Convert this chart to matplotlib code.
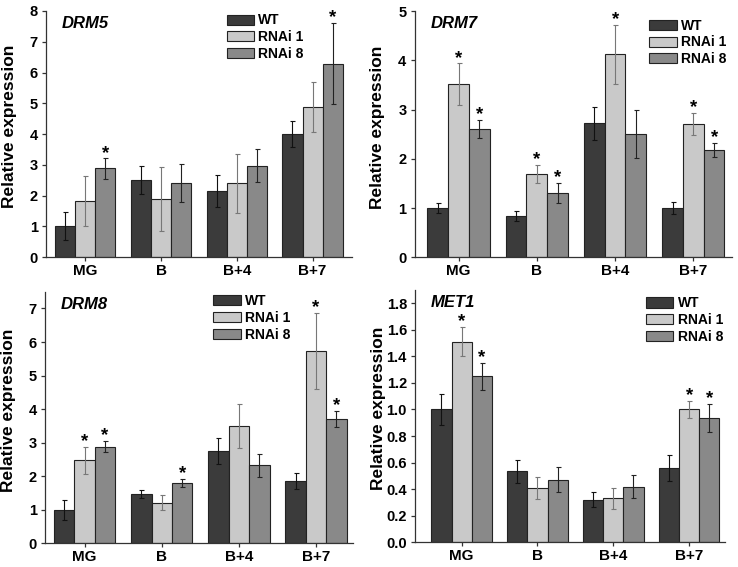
import numpy as np
import matplotlib
matplotlib.use("Agg")
from matplotlib import pyplot as plt

plt.rcParams['font.family'] = ['Liberation Sans', 'DejaVu Sans']
plt.rcParams['font.weight'] = 'bold'

stages = ["MG", "B", "B+4", "B+7"]
lines = ["WT", "RNAi 1", "RNAi 8"]

# DRM5
drm5_wt = [1.00, 2.50, 2.15, 4.00]
drm5_r1 = [1.82, 1.90, 2.40, 4.89]
drm5_r8 = [2.88, 2.41, 2.97, 6.29]
drm5_wt_err = [0.46, 0.46, 0.51, 0.43]
drm5_r1_err = [0.80, 1.04, 0.96, 0.81]
drm5_r8_err = [0.33, 0.63, 0.54, 1.33]
drm5_star = [(0, 2), (3, 2)]

# DRM7
drm7_wt = [1.00, 0.84, 2.72, 1.01]
drm7_r1 = [3.52, 1.70, 4.13, 2.71]
drm7_r8 = [2.61, 1.31, 2.50, 2.18]
drm7_wt_err = [0.10, 0.10, 0.33, 0.12]
drm7_r1_err = [0.42, 0.18, 0.60, 0.23]
drm7_r8_err = [0.19, 0.20, 0.49, 0.14]
drm7_star = [(0, 1), (0, 2), (1, 1), (1, 2), (2, 1), (3, 1), (3, 2)]

# DRM8
drm8_wt = [1.00, 1.46, 2.75, 1.86]
drm8_r1 = [2.48, 1.21, 3.49, 5.73]
drm8_r8 = [2.88, 1.81, 2.32, 3.71]
drm8_wt_err = [0.30, 0.12, 0.40, 0.24]
drm8_r1_err = [0.40, 0.22, 0.66, 1.14]
drm8_r8_err = [0.17, 0.12, 0.35, 0.23]
drm8_star = [(0, 1), (0, 2), (1, 2), (3, 1), (3, 2)]

# MET1
met1_wt = [1.00, 0.535, 0.32, 0.56]
met1_r1 = [1.51, 0.41, 0.33, 1.00]
met1_r8 = [1.25, 0.47, 0.42, 0.935]
met1_wt_err = [0.12, 0.085, 0.055, 0.10]
met1_r1_err = [0.11, 0.085, 0.08, 0.065]
met1_r8_err = [0.10, 0.095, 0.09, 0.105]
met1_star = [(0, 1), (0, 2), (3, 1), (3, 2)]

colors = ["#3b3b3b", "#c9c9c9", "#898989"]
err_colors = ["#111111", "#777777", "#222222"]

panels = [
    dict(name="DRM5", vals=[drm5_wt, drm5_r1, drm5_r8], errs=[drm5_wt_err, drm5_r1_err, drm5_r8_err],
         stars=drm5_star, pos=[0.0623, 0.5467, 0.4146, 0.4339], ylim=(0, 8), yticks=np.arange(0, 9, 1),
         fmt="{:.0f}", xlim=(-0.52, 3.52), leg=(0.59, 0.99)),
    dict(name="DRM7", vals=[drm7_wt, drm7_r1, drm7_r8], errs=[drm7_wt_err, drm7_r1_err, drm7_r8_err],
         stars=drm7_star, pos=[0.562, 0.5462, 0.4295, 0.4339], ylim=(0, 5), yticks=np.arange(0, 6, 1),
         fmt="{:.0f}", xlim=(-0.56, 3.49), leg=(0.74, 0.97)),
    dict(name="DRM8", vals=[drm8_wt, drm8_r1, drm8_r8], errs=[drm8_wt_err, drm8_r1_err, drm8_r8_err],
         stars=drm8_star, pos=[0.0614, 0.0418, 0.417, 0.4437], ylim=(0, 7.5), yticks=np.arange(0, 8, 1),
         fmt="{:.0f}", xlim=(-0.51, 3.48), leg=(0.545, 0.99)),
    dict(name="MET1", vals=[met1_wt, met1_r1, met1_r8], errs=[met1_wt_err, met1_r1_err, met1_r8_err],
         stars=met1_star, pos=[0.5627, 0.0436, 0.4196, 0.445], ylim=(0, 1.9), yticks=np.arange(0, 1.81, 0.2),
         fmt="{:.1f}", xlim=(-0.61, 3.47), leg=(0.744, 0.975)),
]

fig = plt.figure(figsize=(7.38, 5.67), dpi=100)

x = np.arange(len(stages))
w = 0.265

for p in panels:
    ax = fig.add_axes(p["pos"])
    for i in range(3):
        xs = x + (i - 1) * w
        ax.bar(xs, p["vals"][i], w, color=colors[i], edgecolor="#222222", linewidth=0.8,
               label=lines[i], zorder=2)
        ax.errorbar(xs, p["vals"][i], yerr=p["errs"][i], fmt="none", ecolor=err_colors[i],
                    elinewidth=0.8, capsize=1.8, capthick=0.8, zorder=3)
    for g, s in p["stars"]:
        top = p["vals"][s][g] + p["errs"][s][g]
        ax.annotate("*", (x[g] + (s - 1) * w, top), xytext=(0, 0.5), textcoords="offset points",
                    ha="center", va="baseline", fontsize=13.5, fontweight="bold")
    ax.set_xlim(*p["xlim"])
    ax.set_ylim(*p["ylim"])
    ax.set_yticks(p["yticks"])
    ax.set_yticklabels([p["fmt"].format(v) for v in p["yticks"]])
    ax.set_xticks(x)
    ax.set_xticklabels(stages)
    ax.tick_params(axis="y", labelsize=10.5, length=3, width=0.9, color="#333333", pad=3)
    ax.tick_params(axis="x", labelsize=11, length=3, width=0.9, color="#333333", pad=2)
    for t in ax.get_xticklabels() + ax.get_yticklabels():
        t.set_fontweight("bold")
    for sp in ["top", "right"]:
        ax.spines[sp].set_visible(False)
    for sp in ["left", "bottom"]:
        ax.spines[sp].set_color("#333333")
        ax.spines[sp].set_linewidth(0.9)
    ax.set_ylabel("Relative expression", fontsize=12.5, fontweight="bold")
    ax.yaxis.set_label_coords(-0.095, 0.53)
    ax.text(0.05, 0.95, p["name"], transform=ax.transAxes, fontsize=12, fontweight="bold",
            fontstyle="italic", ha="left", va="center")
    leg = ax.legend(loc="upper left", bbox_to_anchor=p["leg"], frameon=False, fontsize=10,
                    handlelength=2.0, handleheight=0.75, handletextpad=0.3, labelspacing=0.2,
                    borderpad=0, borderaxespad=0)
    for t in leg.get_texts():
        t.set_fontweight("bold")

fig.savefig("out.png", dpi=100)
